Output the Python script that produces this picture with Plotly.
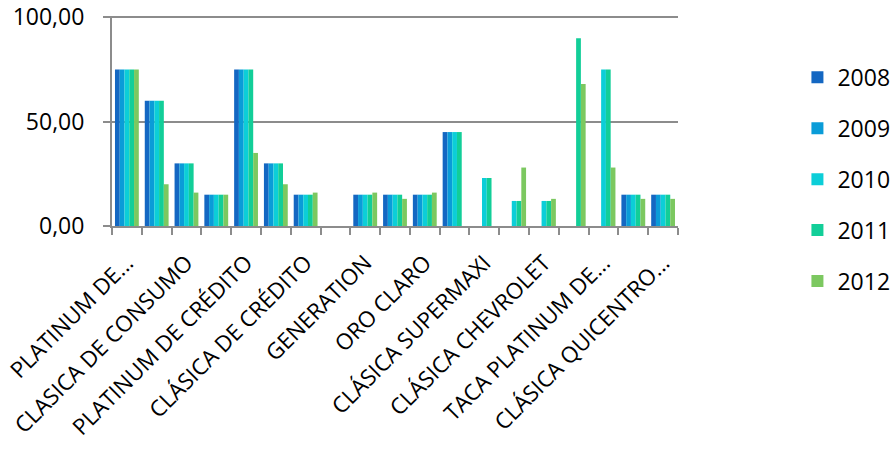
import plotly.graph_objects as go

# Category positions (19 categories, only every other one labelled)
n_categories = 19
tick_positions = [0, 2, 4, 6, 8, 10, 12, 14, 16, 18]
tick_labels = [
    "PLATINUM DE...",
    "CLASICA DE CONSUMO",
    "PLATINUM DE CRÉDITO",
    "CLÁSICA DE CRÉDITO",
    "GENERATION",
    "ORO CLARO",
    "CLÁSICA SUPERMAXI",
    "CLÁSICA CHEVROLET",
    "TACA PLATINUM DE...",
    "CLÁSICA QUICENTRO...",
]

years = ["2008", "2009", "2010", "2011", "2012"]
v2008 = [75, 60, 30, 15, 75, 30, 15, 0, 15, 15, 15, 45, 0, 0, 0, 0, 0, 15, 15]
v2009 = [75, 60, 30, 15, 75, 30, 15, 0, 15, 15, 15, 45, 0, 0, 0, 0, 0, 15, 15]
v2010 = [75, 60, 30, 15, 75, 30, 15, 0, 15, 15, 15, 45, 23, 12, 12, 0, 75, 15, 15]
v2011 = [75, 60, 30, 15, 75, 30, 15, 0, 15, 15, 15, 45, 23, 12, 12, 90, 75, 15, 15]
v2012 = [75, 20, 16, 15, 35, 20, 16, 0, 16, 13, 16, 0, 0, 28, 13, 68, 28, 13, 13]
series = [v2008, v2009, v2010, v2011, v2012]
colors = ["#1467C2", "#0A9CD8", "#0CCED8", "#12CE98", "#7CC860"]

x = list(range(n_categories))
fig = go.Figure()
for name, vals, col in zip(years, series, colors):
    fig.add_trace(go.Bar(
        x=x, y=vals, name=name, legendgroup=name,
        marker=dict(color=col, line=dict(width=0)),
    ))

grid = "#8C8C8C"
fig.update_layout(
    width=894, height=458,
    margin=dict(l=112, r=216, t=16, b=232, autoexpand=False),
    plot_bgcolor="white", paper_bgcolor="white",
    barmode="group", bargap=0.2, bargroupgap=0,
    separators=",.",
    font=dict(family="Open Sans", color="#000000"),
    legend=dict(
        x=1.211, y=0.81, xanchor="left", yanchor="top",
        font=dict(size=23), tracegroupgap=18,
        itemwidth=30, maxheight=420,
    ),
    xaxis=dict(
        range=[-0.5, n_categories - 0.5],
        tickmode="array", tickvals=tick_positions, ticktext=tick_labels,
        tickangle=-45, tickfont=dict(size=22.3),
        ticks="", showgrid=False, automargin=False,
        ticklabelstandoff=13, ticklabeloverflow="allow",
        showline=True, linecolor=grid, linewidth=2,
        minor=dict(
            tickmode="array",
            tickvals=[i - 0.5 for i in range(n_categories + 1)],
            ticks="outside", ticklen=7, tickwidth=2, tickcolor=grid,
            showgrid=False,
        ),
        zeroline=False,
    ),
    yaxis=dict(
        range=[0, 100.6], tickvals=[0, 50, 100], tickformat=".2f",
        tickfont=dict(size=23), automargin=False,
        showgrid=True, gridcolor=grid, gridwidth=2,
        showline=True, linecolor=grid, linewidth=2,
        ticks="outside", ticklen=7, tickwidth=2, tickcolor=grid,
        ticklabelstandoff=14, ticklabeloverflow="allow",
        zeroline=False,
    ),
)

fig.write_html(
    "out.html",
    config={"displayModeBar": False},
    post_script="document.body.style.margin='0px';",
)
